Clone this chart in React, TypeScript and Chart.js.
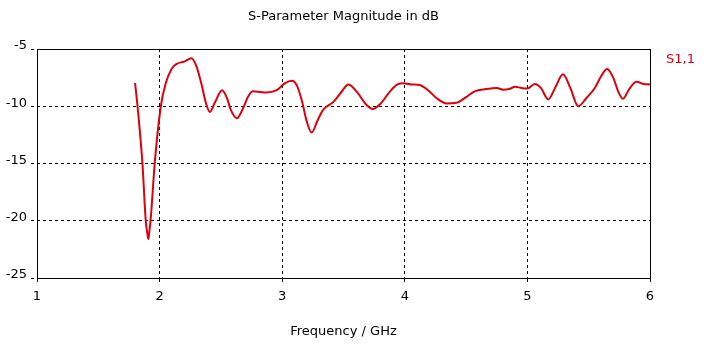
import React, { useEffect, useRef } from "react";
import { Chart, registerables } from "chart.js";

Chart.register(...registerables);

const chartTitle = "S-Parameter Magnitude in dB";
const xAxisTitle = "Frequency / GHz";
const seriesName = "S1,1";

const xTicks = [1, 2, 3, 4, 5, 6];
const yTicks = [-5, -10, -15, -20, -25];

const freqGHz = [
  1.8, 1.82, 1.86, 1.887, 1.9, 1.908, 1.916, 1.93, 1.96, 2.01, 2.05, 2.1, 2.14, 2.2, 2.26, 2.3, 2.34, 2.38,
  2.41, 2.45, 2.51, 2.55, 2.58, 2.63, 2.68, 2.72, 2.76, 2.82, 2.87, 2.955, 3.02, 3.08, 3.12,
  3.16, 3.2, 3.24, 3.29, 3.335, 3.42, 3.48, 3.54, 3.62, 3.68, 3.74, 3.8, 3.88, 3.94, 3.99,
  4.06, 4.12, 4.19, 4.26, 4.34, 4.42, 4.5, 4.57, 4.66, 4.75, 4.8, 4.85, 4.9, 4.95, 5.0, 5.06,
  5.11, 5.17, 5.23, 5.29, 5.35, 5.415, 5.48, 5.55, 5.6, 5.65, 5.7, 5.74, 5.78, 5.83, 5.89,
  5.945, 6.0,
];
const s11dB = [
  -7.97, -10, -15, -20, -21.1, -21.6, -21.0, -19.5, -15, -10, -8.0, -6.7, -6.3, -6.1, -5.8, -6.5, -8.0, -9.8,
  -10.5, -9.7, -8.6, -9.3, -10.3, -11.05, -10.2, -9.2, -8.7, -8.75, -8.8, -8.6, -8.0, -7.77, -8.2,
  -9.5, -11.3, -12.3, -11.2, -10.3, -9.6, -8.8, -8.1, -8.9, -9.8, -10.24, -9.8, -8.7, -8.1, -8.0,
  -8.1, -8.15, -8.6, -9.3, -9.75, -9.7, -9.2, -8.7, -8.5, -8.4, -8.55, -8.5, -8.3, -8.4, -8.45, -8.05,
  -8.4, -9.4, -8.3, -7.2, -8.4, -10.0, -9.3, -8.4, -7.4, -6.75, -7.5, -8.7, -9.35, -8.5, -7.85,
  -8.05, -8.1,
];

const FONT = "Tahoma, 'DejaVu Sans', sans-serif";
const RED = "rgb(222,0,12)";

export default function App() {
  const ref = useRef<HTMLCanvasElement | null>(null);

  useEffect(() => {
    if (!ref.current) return;
    const textPlugin = {
      id: "textPlugin",
      afterDraw(chart: any) {
        const { ctx, chartArea } = chart;
        ctx.save();
        ctx.strokeStyle = "#000";
        ctx.lineWidth = 1;
        ctx.setLineDash([]);
        ctx.strokeRect(
          Math.round(chartArea.left) + 0.5,
          Math.round(chartArea.top) + 0.5,
          Math.round(chartArea.right - chartArea.left),
          Math.round(chartArea.bottom - chartArea.top)
        );
        const cx = (chartArea.left + chartArea.right) / 2;
        ctx.fillStyle = "#000";
        ctx.font = `13px ${FONT}`;
        ctx.textAlign = "center";
        ctx.textBaseline = "middle";
        ctx.fillText(chartTitle, cx, 17);
        ctx.fillText(xAxisTitle, cx, 332);
        ctx.fillStyle = RED;
        ctx.textAlign = "left";
        ctx.fillText(seriesName, chartArea.right + 16, 60);
        ctx.restore();
      },
    };

    const chart = new Chart(ref.current, {
      type: "line",
      data: {
        datasets: [
          {
            label: seriesName,
            data: freqGHz.map((f, i) => ({ x: f, y: s11dB[i] })),
            borderColor: RED,
            borderWidth: 2,
            pointRadius: 0,
            cubicInterpolationMode: "monotone",
            fill: false,
          },
        ],
      },
      options: {
        animation: false,
        responsive: false,
        maintainAspectRatio: false,
        layout: { padding: { top: 49, right: 56, left: 0, bottom: 0 } },
        plugins: {
          legend: { display: false },
          title: { display: false },
          tooltip: { enabled: false },
        },
        scales: {
          x: {
            type: "linear",
            min: 1,
            max: 6,
            afterFit: (s: any) => {
              s.height = 75;
            },
            afterBuildTicks: (s: any) => {
              s.ticks = xTicks.map((v) => ({ value: v }));
            },
            ticks: {
              color: "#000",
              font: { family: FONT, size: 13 },
              padding: 7,
              maxRotation: 0,
            },
            grid: {
              color: "#000",
              lineWidth: 1,
              tickLength: 4,
              tickBorderDash: [],
              drawOnChartArea: true,
            },
            border: { display: false, dash: [3, 3] },
          },
          y: {
            type: "linear",
            min: -25,
            max: -5,
            afterFit: (s: any) => {
              s.width = 37;
            },
            afterBuildTicks: (s: any) => {
              s.ticks = yTicks.map((v) => ({ value: v }));
            },
            ticks: {
              color: "#000",
              font: { family: FONT, size: 13 },
              padding: 4,
              labelOffset: -3,
            },
            grid: {
              color: "#000",
              lineWidth: 1,
              tickLength: 6,
              tickBorderDash: [3, 3],
            },
            border: { display: false, dash: [3, 3] },
          },
        },
      },
      plugins: [textPlugin],
    } as any);
    return () => chart.destroy();
  }, []);

  return (
    <div style={{ position: "absolute", left: 0, top: 0, width: 706, height: 353, background: "#fff" }}>
      <canvas ref={ref} width={706} height={353} style={{ width: 706, height: 353 }} />
    </div>
  );
}
